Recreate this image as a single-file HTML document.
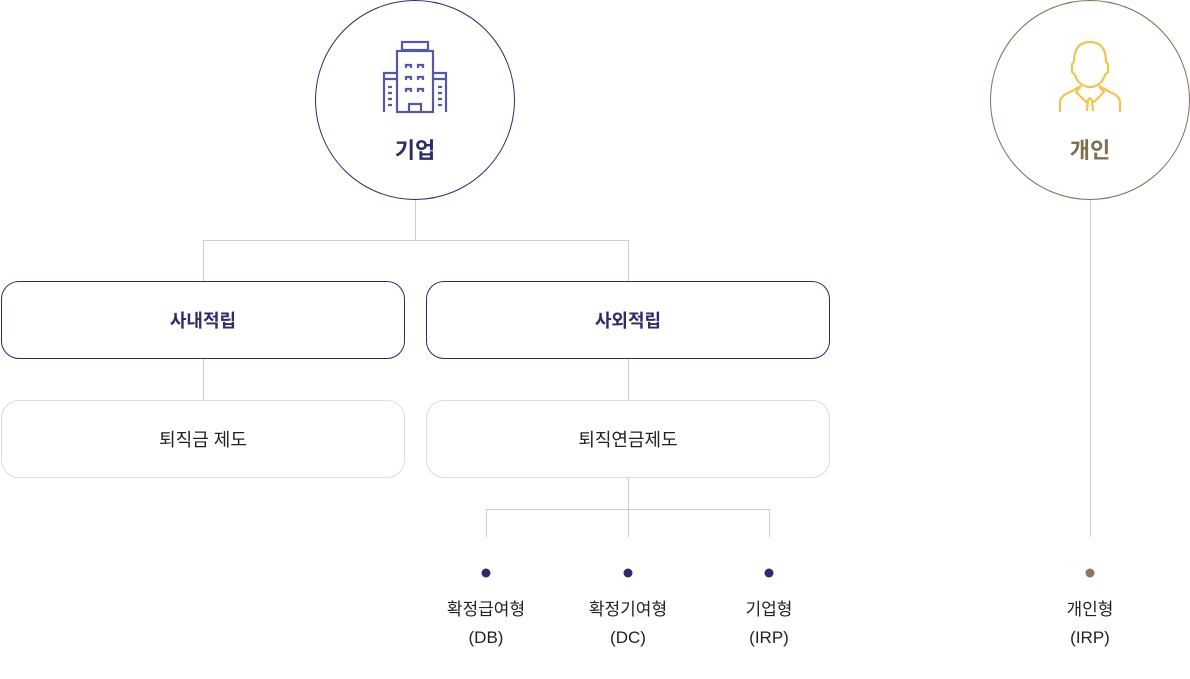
<!DOCTYPE html>
<html><head><meta charset="utf-8"><style>
body{margin:0;width:1190px;height:679px;background:#fff;position:relative;overflow:hidden;font-family:"Liberation Sans","Noto Sans CJK KR",sans-serif}
.a{position:absolute}
.box{position:absolute;box-sizing:border-box;display:flex;align-items:center;justify-content:center;font-size:18px;border-radius:18px}
.t{position:absolute;text-align:center;font-size:17px;color:#222;line-height:28px;width:120px}
</style></head><body>
<svg class="a" style="left:0;top:0" width="1190" height="679">
<g stroke="#ccc" stroke-width="1" fill="none">
<path d="M415.5 200V240.5M203.5 281V240.5H628.5V281M203.5 358V400M628.5 358V400M628.5 477V537M486.5 537V509.5H769.5V537"/>
<path d="M1090.5 200V537"/>
</g>
<circle cx="415" cy="100" r="99.5" fill="#fff" stroke="#2e2a6b" stroke-width="1"/>
<circle cx="1090" cy="100" r="99.5" fill="#fff" stroke="#7d7051" stroke-width="1"/>
<g stroke="#5558a6" stroke-width="2.2" fill="none">
<rect x="402" y="42" width="26" height="8"/>
<rect x="397" y="51" width="36" height="61"/>
<path d="M397 73H384V112M433 73H446V112M384 79H397M433 79H446"/>
<path d="M409 113V104H421V113"/>
<path d="M406 68V65H411V68M418 68V65H423V68M406 80V77H411V80M418 80V77H423V80M406 92V89H411V92M418 92V89H423V92"/>
<path d="M388 87H392M388 93H392M388 99H392M388 105H392M438 87H442M438 93H442M438 99H442M438 105H442"/>
</g>
<g stroke="#efc550" stroke-width="2.2" fill="none" stroke-linejoin="round">
<path d="M1074 62C1074 48 1080 42 1090 42C1100 42 1106 48 1106 62L1108 64V72L1105 75C1103 82 1097 87 1090 87C1083 87 1077 82 1075 75L1072 72V64Z"/>
<path d="M1060 112V102C1060 98 1063 95 1070 92L1081 86M1120 112V102C1120 98 1117 95 1110 92L1099 86"/>
<path d="M1081 86L1076 92L1086 102L1090 98L1094 102L1104 92L1099 86M1088 100L1087 111M1092 100L1093 111"/>
</g>
<g fill="#2e2a6b"><circle cx="486" cy="573" r="4.5"/><circle cx="628" cy="573" r="4.5"/><circle cx="769" cy="573" r="4.5"/></g>
<circle cx="1090" cy="573" r="4.5" fill="#8a7a55"/>
</svg>
<div class="a" style="left:355px;top:133px;width:120px;text-align:center;font-size:22px;font-weight:bold;color:#2e2a6b">기업</div>
<div class="a" style="left:1030px;top:133px;width:120px;text-align:center;font-size:22px;font-weight:bold;color:#7d7051">개인</div>
<div class="box" style="left:1px;top:281px;width:404px;height:78px;border:1px solid #2e2a6b;color:#2e2a6b;font-weight:bold">사내적립</div>
<div class="box" style="left:426px;top:281px;width:404px;height:78px;border:1px solid #2e2a6b;color:#2e2a6b;font-weight:bold">사외적립</div>
<div class="box" style="left:1px;top:400px;width:404px;height:78px;border:1px solid #ddd;color:#222">퇴직금 제도</div>
<div class="box" style="left:426px;top:400px;width:404px;height:78px;border:1px solid #ddd;color:#222">퇴직연금제도</div>
<div class="t" style="left:426px;top:596px">확정급여형<br>(DB)</div>
<div class="t" style="left:568px;top:596px">확정기여형<br>(DC)</div>
<div class="t" style="left:709px;top:596px">기업형<br>(IRP)</div>
<div class="t" style="left:1030px;top:596px">개인형<br>(IRP)</div>
</body></html>
